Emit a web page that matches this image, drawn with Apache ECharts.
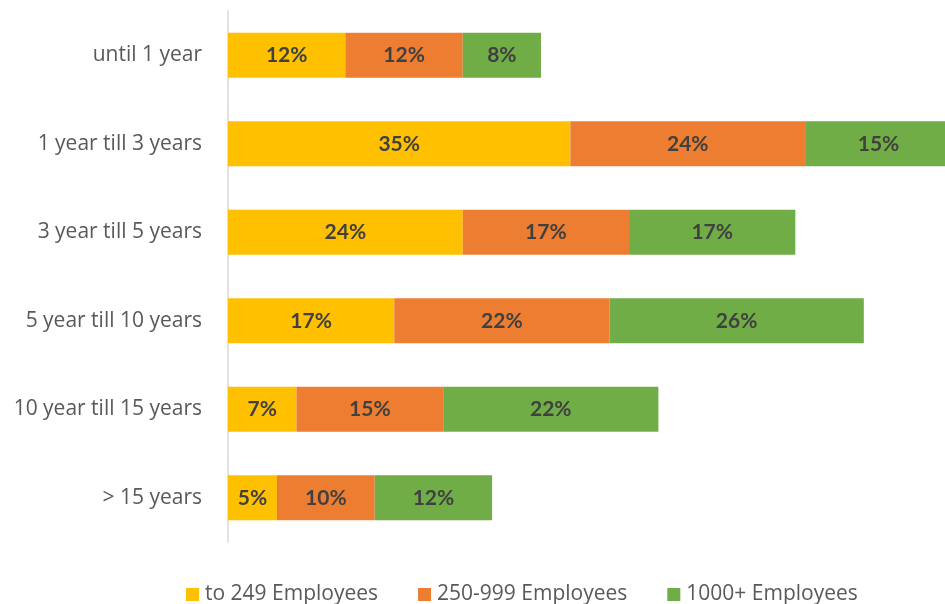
<!DOCTYPE html>
<html>
<head>
<meta charset="utf-8">
<script src="https://cdn.jsdelivr.net/npm/echarts@6/dist/echarts.min.js"></script>
<style>
  html, body { margin: 0; padding: 0; background: #fff; }
  #chart { width: 945px; height: 604px; }
</style>
</head>
<body>
<div id="chart"></div>
<script>
// Company tenure by company size (share of respondents, %)
const categories = [
  'until 1 year',
  '1 year till 3 years',
  '3 year till 5 years',
  '5 year till 10 years',
  '10 year till 15 years',
  '> 15 years'
];
const seriesNames = ['to 249 Employees', '250-999 Employees', '1000+ Employees'];
const small = [12, 35, 24, 17, 7, 5];
const medium = [12, 24, 17, 22, 15, 10];
const large = [8, 15, 17, 26, 22, 12];
const colors = ['#FFC000', '#ED7D31', '#70AD47'];

const TEXT_FONT = '"Open Sans", sans-serif';
const LABEL_FONT = 'Lato, sans-serif';

function makeSeries(name, data, color) {
  return {
    name: name,
    type: 'bar',
    stack: 'total',
    data: data,
    barWidth: 45,
    clip: false,
    itemStyle: { color: color },
    label: {
      show: true,
      position: 'inside',
      formatter: p => p.value + '%',
      color: '#404040',
      fontFamily: LABEL_FONT,
      fontWeight: 'bold',
      fontSize: 21
    },
    emphasis: { disabled: true }
  };
}

const chart = echarts.init(document.getElementById('chart'), null, { renderer: 'canvas' });
chart.setOption({
  animation: false,
  backgroundColor: '#ffffff',
  color: colors,
  // the value axis runs past the right edge, so the longest bar is cut off there
  grid: { left: 228, top: 11, right: 0, height: 531, containLabel: false },
  xAxis: {
    type: 'value',
    min: 0,
    max: 73.3,
    show: false
  },
  yAxis: {
    type: 'category',
    data: categories,
    inverse: true,
    axisLine: { show: true, lineStyle: { color: '#d9d9d9', width: 1.5 } },
    axisTick: { show: false },
    axisLabel: {
      margin: 26,
      color: '#595959',
      fontFamily: TEXT_FONT,
      fontSize: 21
    }
  },
  legend: {
    left: 186,
    top: 584,
    padding: 0,
    itemWidth: 13,
    itemHeight: 13,
    itemGap: 40,
    icon: 'rect',
    data: seriesNames,
    textStyle: { color: '#595959', fontFamily: TEXT_FONT, fontSize: 21, padding: [0, 0, 0, 1] }
  },
  series: [
    makeSeries(seriesNames[0], small, colors[0]),
    makeSeries(seriesNames[1], medium, colors[1]),
    makeSeries(seriesNames[2], large, colors[2])
  ]
});
</script>
</body>
</html>
